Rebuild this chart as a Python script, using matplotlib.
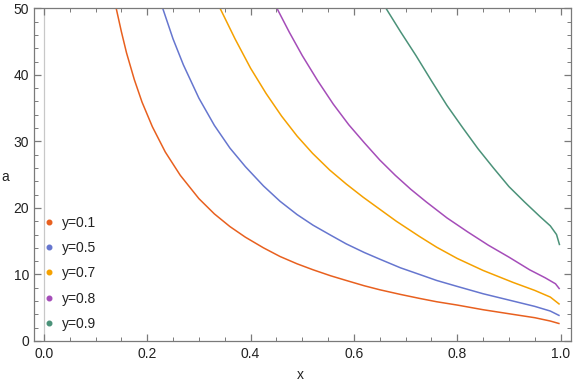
import matplotlib
matplotlib.use('Agg')
import matplotlib.pyplot as plt
from matplotlib.lines import Line2D
from matplotlib.ticker import MultipleLocator, FormatStrFormatter

plt.rcParams['font.family'] = ['Liberation Sans', 'DejaVu Sans']

# curvas a(x), una por valor de y
x_01 = [0.140, 0.150, 0.160, 0.175, 0.190, 0.210, 0.235, 0.264, 0.300, 0.330, 0.360, 0.390,
        0.425, 0.457, 0.490, 0.521, 0.555, 0.585, 0.620, 0.650, 0.690, 0.727, 0.760, 0.800,
        0.850, 0.908, 0.950, 0.980, 0.998]
a_01 = [50.0, 46.5, 43.3, 39.3, 35.9, 32.2, 28.4, 24.9, 21.4, 19.1, 17.2, 15.6,
        14.0, 12.7, 11.6, 10.7, 9.8, 9.1, 8.3, 7.7, 7.0, 6.4, 5.9, 5.4,
        4.7, 4.0, 3.5, 3.0, 2.6]

x_05 = [0.230, 0.250, 0.270, 0.300, 0.330, 0.360, 0.390, 0.425, 0.457, 0.490, 0.521, 0.555,
        0.585, 0.620, 0.650, 0.690, 0.727, 0.760, 0.800, 0.850, 0.908, 0.950, 0.980, 0.998]
a_05 = [50.0, 45.4, 41.5, 36.5, 32.4, 29.0, 26.2, 23.3, 21.0, 19.0, 17.4, 15.9,
        14.6, 13.3, 12.3, 11.0, 10.0, 9.1, 8.2, 7.1, 6.0, 5.2, 4.5, 3.8]

x_07 = [0.341, 0.370, 0.400, 0.430, 0.460, 0.490, 0.520, 0.553, 0.585, 0.618, 0.650, 0.682,
        0.727, 0.760, 0.800, 0.850, 0.908, 0.950, 0.980, 0.998]
a_07 = [50.0, 45.4, 41.0, 37.2, 33.8, 30.8, 28.2, 25.7, 23.6, 21.6, 19.8, 18.0,
        15.7, 14.1, 12.4, 10.6, 8.8, 7.6, 6.6, 5.5]

x_08 = [0.451, 0.475, 0.500, 0.530, 0.560, 0.590, 0.620, 0.650, 0.680, 0.710, 0.740, 0.780,
        0.820, 0.860, 0.900, 0.940, 0.970, 0.990, 0.998]
a_08 = [50.0, 46.4, 42.9, 39.1, 35.6, 32.5, 29.8, 27.2, 24.9, 22.8, 20.9, 18.5,
        16.4, 14.4, 12.6, 10.7, 9.5, 8.6, 7.8]

x_09 = [0.662, 0.690, 0.720, 0.750, 0.780, 0.810, 0.840, 0.870, 0.900, 0.930, 0.960, 0.980,
        0.992, 0.998]
a_09 = [50.0, 46.5, 42.9, 39.1, 35.4, 32.1, 28.9, 26.0, 23.2, 20.9, 18.7, 17.3, 16.0, 14.4]

etiquetas = ['y=0.1', 'y=0.5', 'y=0.7', 'y=0.8', 'y=0.9']
colores = ['#E8601F', '#6676CF', '#F5A100', '#A54DB9', '#4B9279']

fig = plt.figure(figsize=(5.76, 3.85), dpi=100)
ax = fig.add_axes([33.5/576, 1-341/385, 537.5/576, 332.7/385])

curvas = [(x_01, a_01), (x_05, a_05), (x_07, a_07), (x_08, a_08), (x_09, a_09)]
for (xs, ys), c in zip(curvas, colores):
    ax.plot(xs, ys, color=c, lw=1.1, solid_capstyle='butt', solid_joinstyle='round')

ax.axvline(0, color='#c8c8c8', lw=0.9, zorder=0)

ax.set_xlim(-0.02, 1.02)
ax.set_ylim(0, 50)
ax.xaxis.set_major_locator(MultipleLocator(0.2))
ax.xaxis.set_minor_locator(MultipleLocator(0.05))
ax.yaxis.set_major_locator(MultipleLocator(10))
ax.yaxis.set_minor_locator(MultipleLocator(2))
ax.xaxis.set_major_formatter(FormatStrFormatter('%.1f'))

for s in ax.spines.values():
    s.set_color('#7a7a7a')
    s.set_linewidth(0.9)
ax.tick_params(which='both', direction='in', top=True, right=True, color='#7a7a7a',
               labelsize=10, labelcolor='#222222')
ax.tick_params(which='major', length=5, width=0.9)
ax.tick_params(which='minor', length=3, width=0.7)
ax.tick_params(axis='x', pad=4.5)
ax.tick_params(axis='y', pad=3.2)

ax.set_xlabel('x', fontsize=10, color='#222222', va='baseline')
ax.xaxis.set_label_coords(0.496, -0.114)
ax.set_ylabel('a', fontsize=10, color='#222222', rotation=0, va='center')
ax.yaxis.set_label_coords(-0.053, 0.493)

handles = [Line2D([], [], marker='o', ls='none', color=c, markersize=3.3) for c in colores]
ax.legend(handles, etiquetas, loc='lower left', bbox_to_anchor=(0.008, 0.009), frameon=False,
          borderpad=0, handlelength=0.6, handletextpad=0.65, labelspacing=0.82, fontsize=10,
          labelcolor='#222222')

plt.savefig('out.png', dpi=100)
plt.close()
